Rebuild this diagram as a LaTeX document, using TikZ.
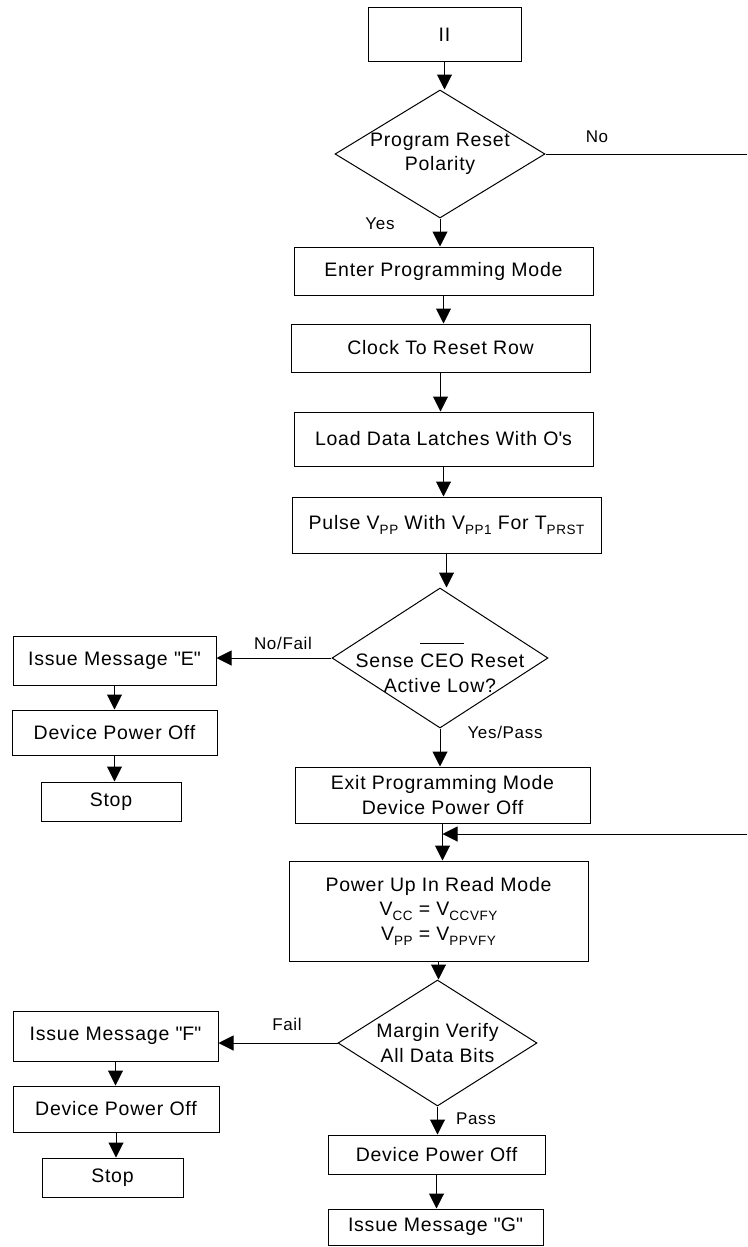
\documentclass[tikz,border=0pt]{standalone}
\usepackage{fontspec}
\setmainfont[LetterSpace=4]{Liberation Sans}
\usetikzlibrary{arrows.meta,positioning,shapes.geometric,calc}

\newcommand\ovbar[1]{{\setbox0\hbox{#1}\rlap{\rule[1.2em]{\wd0}{0.05em}}\box0}}
\newcommand\lowsub[1]{\raisebox{-0.25em}{\fontsize{13.5}{13.5}\selectfont #1}}
\newcommand\qt[1]{\textquotedbl#1\textquotedbl}

\begin{document}
\begin{tikzpicture}[->, >={Triangle[width=15pt,length=15pt]}, x=1pt, y=-1pt, line width=1pt,
	font=\fontsize{19.5}{24.5}\selectfont]
	\tikzstyle{block}=[rectangle,draw=black,fill=white,inner sep=0pt,align=center]
	\tikzstyle{decision}=[diamond,draw=black,fill=white,inner sep=0pt]
	\tikzstyle{tag}=[font=\fontsize{17}{20}\selectfont]
	\useasboundingbox (0,0) rectangle (747,1247);
	% main column
	\node[block,minimum width=153pt,minimum height=54pt]  (start)   at (444.5,35)   {II};
	\node[decision,minimum width=210pt,minimum height=128pt,
		label={[align=center]center:Program Reset\\Polarity}] (polarity) at (440,154) {};
	\node[block,minimum width=299pt,minimum height=48pt]  (enter)   at (443.5,271)  {Enter Programming Mode};
	\node[block,minimum width=299pt,minimum height=48pt]  (clock)   at (440.5,348)  {Clock To Reset Row};
	\node[block,minimum width=299pt,minimum height=54pt]  (load)    at (443.5,439)  {Load Data Latches With O\textquotesingle s};
	\node[block,minimum width=309pt,minimum height=56pt]  (pulse)   at (446.5,525)
		{Pulse V\lowsub{PP} With V\lowsub{PP1} For T\lowsub{PRST}};
	\node[decision,minimum width=216pt,minimum height=140pt,
		label={[align=center,yshift=-10pt]center:Sense \ovbar{CEO} Reset\\Active Low?}] (sense) at (440,658) {};
	\node[block,minimum width=295pt,minimum height=56pt]  (exit)    at (442.5,795)  {Exit Programming Mode\\Device Power Off};
	\node[block,minimum width=299pt,minimum height=100pt] (powerup) at (438.5,911)
		{Power Up In Read Mode\\V\lowsub{CC} = V\lowsub{CCVFY}\\V\lowsub{PP} = V\lowsub{PPVFY}};
	\node[decision,minimum width=199pt,minimum height=126pt,
		label={[align=center]center:Margin Verify\\All Data Bits}] (verify) at (437.5,1043) {};
	\node[block,minimum width=217pt,minimum height=39pt]  (offP)    at (436.5,1154.5) {Device Power Off};
	\node[block,minimum width=215pt,minimum height=36pt]  (issueG)  at (435.5,1227)   {Issue Message \qt{G}};
	% left column
	\node[block,minimum width=203pt,minimum height=49pt]  (issueE)  at (114.5,660.5)  {Issue Message \qt{E}};
	\node[block,minimum width=205pt,minimum height=45pt]  (offE)    at (114.5,732.5)  {Device Power Off};
	\node[block,minimum width=140pt,minimum height=39pt]  (stopE)   at (111,801.5)    {Stop};
	\node[block,minimum width=205pt,minimum height=50pt]  (issueF)  at (115.5,1036)   {Issue Message \qt{F}};
	\node[block,minimum width=206pt,minimum height=46pt]  (offF)    at (116,1109)     {Device Power Off};
	\node[block,minimum width=141pt,minimum height=39pt]  (stopF)   at (112.5,1177.5) {Stop};
	% branch labels
	\node[tag] (no)      at (597,137)  {No};
	\node[tag] (yes)     at (380,224)  {Yes};
	\node[tag] (nofail)  at (283,643)  {No/Fail};
	\node[tag] (yespass) at (505,732)  {Yes/Pass};
	\node[tag] (fail)    at (287,1024) {Fail};
	\node[tag] (pass)    at (476,1119) {Pass};
	\coordinate (noend) at (747,154);
	\coordinate (back)  at (747,834);
	% connectors
	\foreach \a/\b in {start/polarity,polarity/enter,enter/clock,clock/load,load/pulse,pulse/sense,
		sense/exit,exit/powerup,powerup/verify,verify/offP,offP/issueG,
		issueE/offE,offE/stopE,issueF/offF,offF/stopF}
		\draw (\a) -- (\a |- \b.north);
	\draw (sense) -- (issueE.east |- sense);
	\draw (verify) -- (issueF.east |- verify);
	\draw[-] (polarity) -- (noend);
	\draw (back) -- (back -| exit);
\end{tikzpicture}
\end{document}
